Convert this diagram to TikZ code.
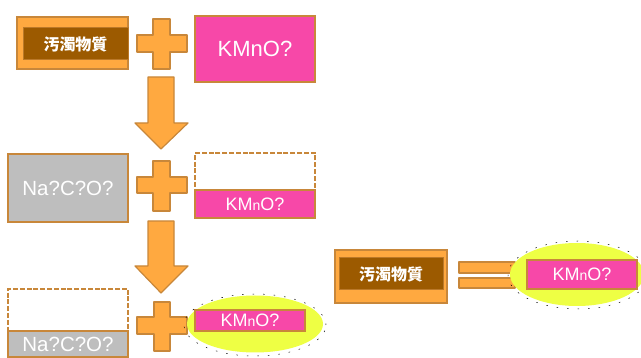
\documentclass[tikz,border=0pt]{standalone}
\usepackage{fontspec}
\setmainfont{Liberation Sans}
\newfontfamily\cjk{Noto Sans CJK JP}
\usetikzlibrary{shapes.geometric}
\definecolor{orfill}{HTML}{FFA940}
\definecolor{ordraw}{HTML}{C8873A}
\definecolor{brownf}{HTML}{9C5A00}
\definecolor{pinkf}{HTML}{F748A8}
\definecolor{grayf}{HTML}{BEBEBE}
\definecolor{yell}{HTML}{EEFF44}
\newcommand{\kmn}[1]{KM{\fontsize{#1}{#1}\selectfont n}O?}
\tikzset{
  box/.style={draw=ordraw, line width=1.5pt, inner sep=0pt, outer sep=0pt, anchor=north west, text=white},
  orbox/.style={box, fill=orfill},
  brbox/.style={box, draw=ordraw!70!brownf, line width=1pt, fill=brownf, font=\cjk\bfseries\fontsize{16}{16}\selectfont},
  pkbox/.style={box, fill=pinkf},
  grbox/.style={box, fill=grayf},
  dbox/.style={box, dash pattern=on 5pt off 1.8pt, line width=2.3pt, fill=white},
  sym/.style={draw=ordraw, fill=orfill, line width=1.2pt, line join=round},
  yel/.style={draw=none, fill=yell},
  dots/.style={draw=black, line width=0.5pt, dash pattern=on 1.5pt off 9pt},
}
\begin{document}
\begin{tikzpicture}[x=1pt,y=-1pt]
\useasboundingbox (0,0) rectangle (641,358);
% row 1
\node[orbox, minimum width=111pt, minimum height=52pt] (tl) at (17,17) {};
\node[brbox, minimum width=105pt, minimum height=32pt] (tlin) at (23,28) {汚濁物質};
\draw[sym] (153,19) -- (170,19) -- (170,35) -- (187,35) -- (187,52) -- (170,52) -- (170,69) -- (153,69) -- (153,52) -- (137,52) -- (137,35) -- (153,35) -- cycle;
\node[pkbox, minimum width=120pt, minimum height=66pt, font=\fontsize{22}{22}\selectfont] (tp) at (195,16) {KMnO?};
% arrow 1
\draw[sym] (148,77) -- (174,77) -- (174,123) -- (188,123) -- (161,149) -- (135,123) -- (148,123) -- cycle;
% row 2
\node[grbox, minimum width=120pt, minimum height=68pt, font=\fontsize{20.5}{20.5}\selectfont] (mg) at (8,154) {Na?C?O?};
\draw[sym] (153,161) -- (170,161) -- (170,177) -- (187,177) -- (187,193) -- (170,193) -- (170,211) -- (153,211) -- (153,193) -- (137,193) -- (137,177) -- (153,177) -- cycle;
\node[dbox, minimum width=120pt, minimum height=37pt] (md) at (195,153) {};
\node[pkbox, minimum width=120pt, minimum height=28pt, font=\fontsize{18}{18}\selectfont] (mp) at (195,190) {\kmn{14}};
% arrow 2
\draw[sym] (148,221) -- (174,221) -- (174,266) -- (188,266) -- (161,293) -- (135,266) -- (148,266) -- cycle;
% row 3
\node[dbox, minimum width=120pt, minimum height=42pt] (bd) at (8,289) {};
\node[grbox, minimum width=120pt, minimum height=26pt, font=\fontsize{20.5}{20.5}\selectfont] (bg) at (8,331) {Na?C?O?};
\draw[sym] (154,302) -- (170,302) -- (170,317) -- (187,317) -- (187,334) -- (170,334) -- (170,351) -- (154,351) -- (154,334) -- (137,334) -- (137,317) -- (154,317) -- cycle;
\node[ellipse, yel, minimum width=136pt, minimum height=57pt] (be) at (255,324) {};
\node[ellipse, dots, minimum width=142pt, minimum height=62pt] (bed) at (255,325) {};
\node[pkbox, minimum width=110pt, minimum height=21pt, font=\fontsize{18}{18}\selectfont] (bp) at (195,310) {\kmn{14}};
% right equation
\node[orbox, minimum width=112pt, minimum height=53pt] (rl) at (335,250) {};
\node[brbox, minimum width=104pt, minimum height=32pt] (rlin) at (339,258) {汚濁物質};
\node[box, sym, minimum width=56pt, minimum height=11pt] (eq1) at (459,262) {};
\node[box, sym, minimum width=56pt, minimum height=10pt] (eq2) at (459,278) {};
\node[ellipse, yel, minimum width=134pt, minimum height=63pt] (re) at (577,274.5) {};
\node[ellipse, dots, minimum width=140pt, minimum height=68pt] (red) at (578,275) {};
\node[pkbox, minimum width=110pt, minimum height=29pt, font=\fontsize{18}{18}\selectfont] (rp) at (527,260) {\kmn{14}};
\end{tikzpicture}
\end{document}
